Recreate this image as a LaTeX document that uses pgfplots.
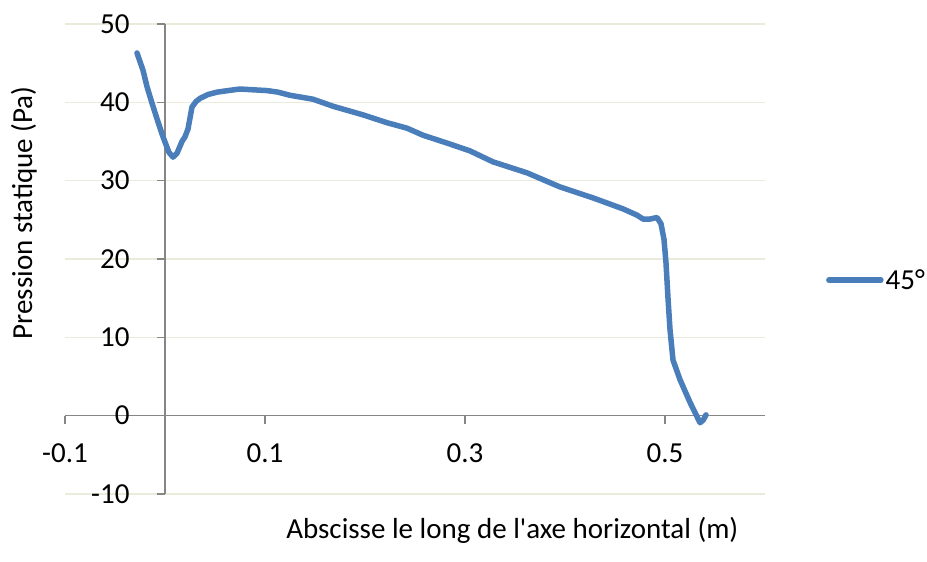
\documentclass[border=0pt]{standalone}
\usepackage{fontspec}
\setmainfont{Carlito}
\usepackage{pgfplots}
\pgfplotsset{compat=1.18}
\definecolor{serie}{RGB}{74,126,187}
\definecolor{axegris}{RGB}{134,134,134}
\definecolor{grille}{RGB}{234,235,218}
\begin{document}
\begin{tikzpicture}[x=1pt,y=1pt]
\begin{axis}[
  at={(65pt,68pt)}, anchor=south west,
  scale only axis, width=700pt, height=470pt,
  xmin=-0.1, xmax=0.6, ymin=-10, ymax=50,
  axis lines=middle,
  hide obscured x ticks=false,
  hide obscured y ticks=false,
  axis line style={-, draw=axegris, line width=1.3pt},
  xtick={-0.1,0.1,0.3,0.5},
  xticklabels={-0.1,0.1,0.3,0.5},
  ytick={-10,0,10,20,30,40,50},
  yticklabels={-10,0,10,20,30,40,50},
  tick align=outside,
  major tick length=8pt,
  tick style={draw=axegris, line width=1.3pt},
  ymajorgrids,
  grid style={draw=grille, line width=1.5pt},
  tick label style={font=\fontsize{29}{34}\selectfont},
  xticklabel style={anchor=north, yshift=-16pt},
  yticklabel style={anchor=east, xshift=-24pt},
  xlabel={Abscisse le long de l\textquotesingle axe horizontal (m)},
  ylabel={Pression statique (Pa)},
  label style={font=\fontsize{29}{34}\selectfont},
  xlabel style={at={(axis description cs:0.639,-0.0957)}, anchor=base},
  ylabel style={at={(axis description cs:-0.0471,0.598)}, anchor=base, rotate=90},
  legend style={at={(1.087,0.455)}, anchor=west, draw=none, fill=none,
    inner sep=0pt, font=\fontsize{29}{34}\selectfont,
    legend cell align=left},
  legend image code/.code={\draw[#1, line width=5.5pt] (0pt,0pt) -- (52pt,0pt);},
  clip=false,
]
\addplot[color=serie, line width=5.5pt, line join=round, line cap=round] coordinates {
(-0.028,46.3) (-0.022,44.1) (-0.018,42.0) (-0.013,39.9) (-0.007,37.5)
(-0.002,35.6) (0.004,33.6) (0.008,33.0) (0.012,33.5) (0.017,35.0)
(0.020,35.6) (0.023,36.6) (0.025,38.0) (0.027,39.4) (0.031,40.1)
(0.035,40.5) (0.043,41.0) (0.052,41.3) (0.063,41.5) (0.075,41.7)
(0.088,41.6) (0.102,41.5) (0.113,41.3) (0.125,40.9) (0.148,40.4)
(0.168,39.5) (0.198,38.4) (0.222,37.4) (0.242,36.7) (0.258,35.8)
(0.282,34.8) (0.305,33.8) (0.328,32.4) (0.362,31.0) (0.395,29.2)
(0.428,27.8) (0.458,26.4) (0.472,25.6) (0.478,25.1) (0.485,25.1)
(0.492,25.3) (0.496,24.5) (0.499,22.5) (0.501,19.5) (0.503,15.0)
(0.505,11.0) (0.508,7.1) (0.515,4.6) (0.525,1.7) (0.535,-0.9)
(0.538,-0.6) (0.541,0.1)
};
\addlegendentry{45°}
\end{axis}
\pgfresetboundingbox
\useasboundingbox (0,0) rectangle (927pt,562pt);
\end{tikzpicture}
\end{document}
